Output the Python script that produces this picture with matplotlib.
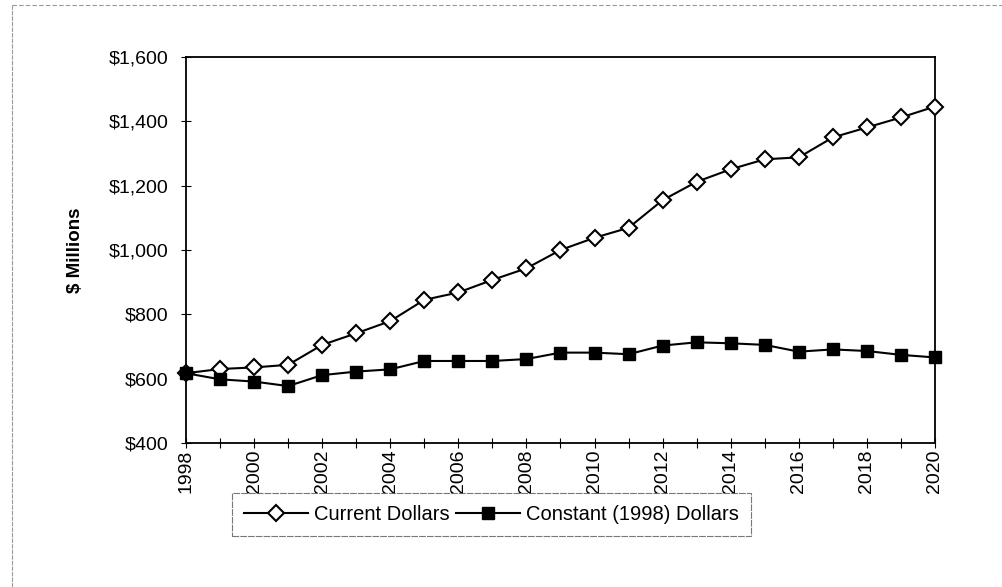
import matplotlib.pyplot as plt
from matplotlib.lines import Line2D
from matplotlib.ticker import FuncFormatter, MultipleLocator

years = list(range(1998, 2021))
current_dollars = [617, 630, 635, 643, 705, 741, 779, 845, 868, 907, 943, 1000,
                   1038, 1069, 1155, 1212, 1251, 1282, 1288, 1350, 1381, 1412, 1446]
constant_dollars = [617, 598, 591, 577, 611, 622, 629, 655, 655, 655, 661, 681,
                    681, 676, 703, 713, 710, 705, 684, 691, 686, 674, 666]

plt.rcParams['font.family'] = ['Liberation Sans', 'DejaVu Sans']

fig = plt.figure(figsize=(10.03, 5.87), dpi=100)
ax = fig.add_axes([0.1854, 0.2453, 0.7468, 0.6576])

ax.plot(years, current_dollars, color='black', linewidth=1.5, marker='D',
        markersize=8, markerfacecolor='white', markeredgecolor='black',
        markeredgewidth=1.5, label='Current Dollars', clip_on=False, zorder=3)
ax.plot(years, constant_dollars, color='black', linewidth=1.5, marker='s',
        markersize=9, markerfacecolor='black', markeredgecolor='black',
        label='Constant (1998) Dollars', clip_on=False, zorder=3)

ax.set_xlim(1998, 2020)
ax.set_ylim(400, 1600)
ax.xaxis.set_major_locator(MultipleLocator(2))
ax.xaxis.set_minor_locator(MultipleLocator(1))
ax.yaxis.set_major_locator(MultipleLocator(200))
ax.yaxis.set_major_formatter(FuncFormatter(lambda v, p: f'${v:,.0f}'))
ax.tick_params(axis='x', which='both', direction='inout', length=7, width=0.8,
               labelsize=14, labelrotation=90, pad=1)
ax.tick_params(axis='y', direction='inout', length=7, width=0.8, labelsize=14, pad=9)
for s in ax.spines.values():
    s.set_linewidth(1.3)

ax.set_ylabel('$ Millions', fontsize=13.5, fontweight='bold', labelpad=18)

handles = [
    Line2D([], [], color='black', linewidth=1.5, marker='D', markersize=8,
           markerfacecolor='white', markeredgewidth=1.5),
    Line2D([], [], color='black', linewidth=1.5, marker='s', markersize=9,
           markerfacecolor='black'),
]
leg = fig.legend(handles, ['Current Dollars', 'Constant (1998) Dollars'],
                 loc='center', bbox_to_anchor=(0.49, 0.124), ncol=2,
                 fontsize=14.5, frameon=True, fancybox=False, handlelength=3.2,
                 columnspacing=0.3, handletextpad=0.3, borderpad=0.6,
                 borderaxespad=0)
leg.get_frame().set_edgecolor('#555555')
leg.get_frame().set_linewidth(0.8)
leg.get_frame().set_linestyle((0, (6, 1)))

# faint page border from the scan
fig.add_artist(Line2D([12 / 1003, 12 / 1003], [0, 1 - 5 / 587],
                      color='#999999', linewidth=0.8, linestyle=(0, (4, 1))))
fig.add_artist(Line2D([12 / 1003, 1], [1 - 5 / 587, 1 - 5 / 587],
                      color='#999999', linewidth=0.8, linestyle=(0, (4, 2))))

fig.savefig('out.png', dpi=100)
